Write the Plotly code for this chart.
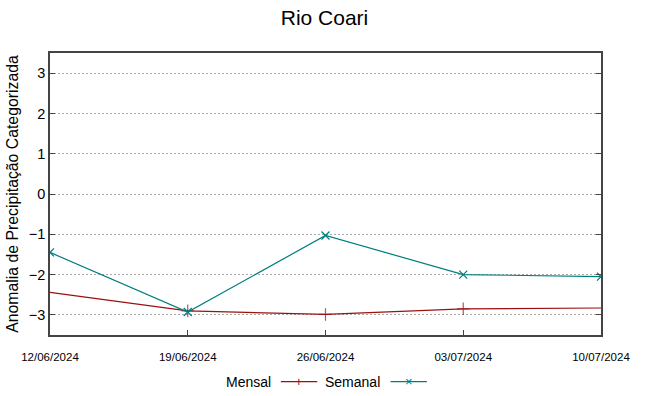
import plotly.graph_objects as go

dates = ["2024-06-12", "2024-06-19", "2024-06-26", "2024-07-03", "2024-07-10"]
date_labels = ["12/06/2024", "19/06/2024", "26/06/2024", "03/07/2024", "10/07/2024"]
mensal = [-2.44, -2.90, -2.99, -2.85, -2.83]
semanal = [-1.45, -2.93, -1.03, -2.00, -2.05]
y_ticks = [-3, -2, -1, 0, 1, 2, 3]

RED = "#9b1010"
TEAL = "#007d7d"
FONT = "Liberation Sans, Arial, sans-serif"

fig = go.Figure()
fig.add_trace(go.Scatter(
    x=dates, y=mensal, name="Mensal", mode="lines+markers",
    line=dict(color=RED, width=1.2),
    marker=dict(symbol="cross-thin", size=[0, 9, 9, 9, 0],
                line=dict(color=RED, width=1.2), color=RED),
))
fig.add_trace(go.Scatter(
    x=dates, y=semanal, name="Semanal", mode="lines+markers",
    line=dict(color=TEAL, width=1.2),
    marker=dict(symbol="x-thin", size=8, line=dict(color=TEAL, width=1.2), color=TEAL),
))

# custom legend (text before line sample, gnuplot style)
legend_items = [("Mensal", RED, "+", 0.404), ("Semanal", TEAL, "×", 0.603)]
for name, col, sym, xp in legend_items:
    fig.add_annotation(x=xp, y=-0.165, xref="paper", yref="paper", text=name,
                       showarrow=False, xanchor="right", yanchor="middle",
                       font=dict(family=FONT, size=14, color="#000"))
    x0 = xp + 0.015
    x1 = x0 + 0.066
    fig.add_shape(type="line", xref="paper", yref="paper", x0=x0, x1=x1,
                  y0=-0.165, y1=-0.165, line=dict(color=col, width=1.2))
    fig.add_annotation(x=(x0 + x1) / 2, y=-0.165, xref="paper", yref="paper", text=sym,
                       showarrow=False, xanchor="center", yanchor="middle",
                       font=dict(family=FONT, size=13, color=col))

fig.update_layout(
    width=649, height=396,
    margin=dict(l=50, r=48, t=53, b=61),
    paper_bgcolor="white", plot_bgcolor="white",
    showlegend=False,
    title=dict(text="Rio Coari", x=0.5, xanchor="center", y=0.955, yanchor="middle",
               font=dict(family=FONT, size=21, color="#000")),
    font=dict(family=FONT, color="#000"),
    xaxis=dict(
        type="date", range=[dates[0], dates[-1]],
        tickvals=dates, ticktext=date_labels,
        ticks="inside", ticklen=5, tickcolor="#444", tickwidth=1,
        showgrid=False, zeroline=False,
        showline=True, linecolor="#444", linewidth=1.5, mirror=True,
        tickfont=dict(family=FONT, size=11.5, color="#000"),
        ticklabelstandoff=10,
    ),
    yaxis=dict(
        range=[-3.5, 3.5], tickvals=y_ticks,
        ticks="inside", ticklen=5, tickcolor="#444", tickwidth=1,
        showgrid=True, gridcolor="#a8a8a8", griddash="2px,2px", gridwidth=1,
        zeroline=False,
        showline=True, linecolor="#444", linewidth=1.5, mirror="ticks",
        tickfont=dict(family=FONT, size=14.5, color="#000"),
        title=dict(text="Anomalia de Precipitação Categorizada", standoff=6,
                   font=dict(family=FONT, size=15.8, color="#000")),
    ),
)

fig.write_html("out.html", config={"displayModeBar": False},
               post_script="document.body.style.margin='0';document.body.style.overflow='hidden';")
